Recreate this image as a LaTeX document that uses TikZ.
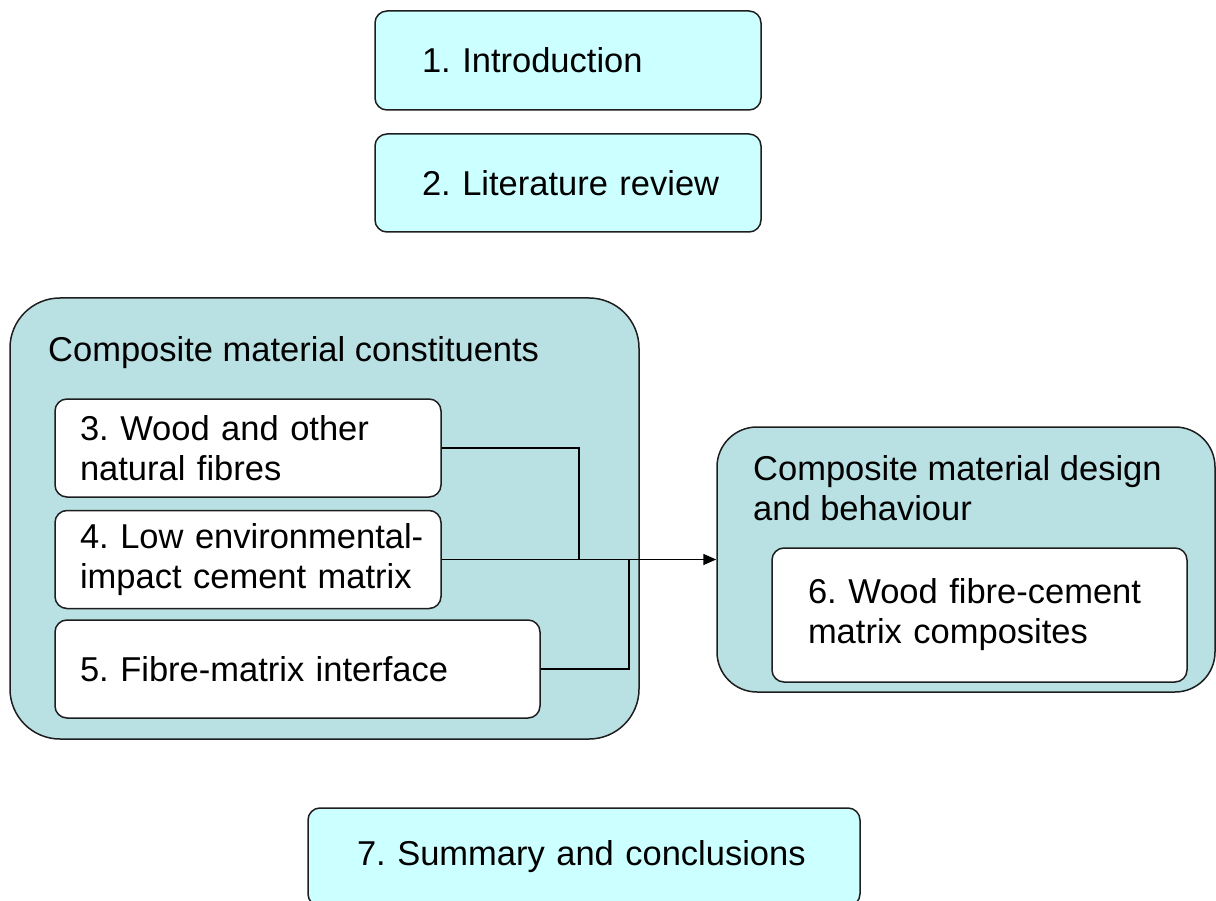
\documentclass[tikz,border=0pt]{standalone}
\usepackage{fontspec}
\setmainfont{Liberation Sans}
\usetikzlibrary{arrows.meta}
\definecolor{cyanbox}{RGB}{204,255,255}
\definecolor{groupfill}{RGB}{185,224,227}
\definecolor{edgecol}{RGB}{30,30,30}
\frenchspacing
\begin{document}
\begin{tikzpicture}[x=1pt,y=-1pt,
  every node/.style={font=\fontsize{34.5}{40}\selectfont},
  boxbase/.style={draw=edgecol, line width=1.5pt, align=left, inner ysep=0pt, anchor=center},
  topbox/.style={boxbase, fill=cyanbox, rounded corners=12pt},
  innerbox/.style={boxbase, fill=white, rounded corners=12pt},
  groupbox/.style={draw=edgecol, line width=1.5pt, fill=groupfill, inner sep=0pt, anchor=center},
  titletext/.style={align=left, inner sep=0pt},
  conn/.style={draw=black, line width=1.5pt},
  connarrow/.style={conn, -{Triangle[length=13pt,width=11pt]}}
]
\clip (0,0) rectangle (1216,901);
\fill[white] (0,0) rectangle (1216,901);

% top boxes
\node[topbox, minimum width=386pt, minimum height=99pt, inner xsep=47pt, text width=292pt] (b1) at (568,60.5) {\mbox{1. Introduction}};
\node[topbox, minimum width=386pt, minimum height=98pt, inner xsep=47pt, text width=292pt] (b2) at (568,183) {\mbox{2. Literature review}};

% left group
\node[groupbox, rounded corners=50pt, minimum width=629pt, minimum height=441pt] (g1) at (324.5,518.5) {};
\node[titletext, anchor=base west] (g1t) at (48,362) {Composite material constituents};
\node[innerbox, minimum width=386pt, minimum height=98pt, inner xsep=25pt, text width=336pt] (b3) at (248,448) {\mbox{3. Wood and other}\\\mbox{natural fibres}};
\node[innerbox, minimum width=386pt, minimum height=98pt, inner xsep=25pt, text width=336pt] (b4) at (248,559.5) {\mbox{4. Low environmental-}\\\mbox{impact cement matrix}};
\node[innerbox, minimum width=485pt, minimum height=98pt, inner xsep=25pt, text width=435pt] (b5) at (297.5,669) {\mbox{5. Fibre-matrix interface}};

% right group
\node[groupbox, rounded corners=40pt, minimum width=498pt, minimum height=265pt] (g2) at (966,559.5) {};
\node[titletext, anchor=north west] (g2t) at (753,455) {Composite material design\\and behaviour};
\node[innerbox, minimum width=415pt, minimum height=134pt, inner xsep=36pt, text width=343pt] (b6) at (979.5,615) {\mbox{6. Wood fibre-cement}\\\mbox{matrix composites}};

% bottom box
\node[topbox, minimum width=552pt, minimum height=98pt, inner xsep=49pt, text width=454pt] (b7) at (584,857) {\mbox{7. Summary and conclusions}};

% connectors
\coordinate (j1) at (579,559.5);
\coordinate (j2) at (629,559.5);
\draw[conn] (b3.east) -| (j1);
\draw[conn] (b5.east) -| (j2);
\draw[connarrow] (b4.east) -- (g2.west);
\end{tikzpicture}
\end{document}
